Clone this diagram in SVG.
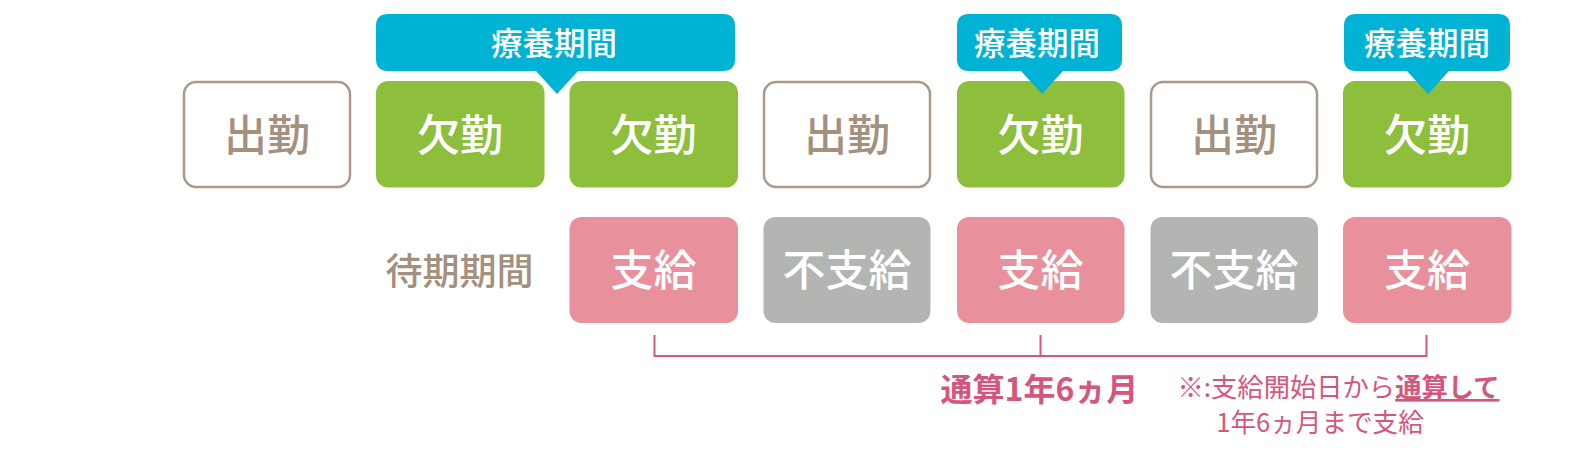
<svg xmlns="http://www.w3.org/2000/svg" width="1581" height="457" viewBox="0 0 1581 457">
<style>
text{font-family:"Noto Sans CJK JP","Noto Sans",sans-serif;text-anchor:middle}
.n{font-size:43px;font-weight:500}
.w{fill:#fff}
.wk rect{fill:#fff;stroke:#ab9a8c;stroke-width:2.5}
.wk text{fill:#a3907f}
.ab rect{fill:#8dbf3d}
.pay rect{fill:#e8909c}
.no rect{fill:#b3b5b3}
.tag path{fill:#00b2d4}
.tag text{fill:#fff;font-size:31.500px;font-weight:500}
.note{font-size:26.300px;fill:#d5567c}
</style>
<rect width="1581" height="457" fill="#fff"/>
<g id="conn" fill="none" stroke="#d5567c" stroke-width="2">
<path d="M654.500 335V356H1426.500V335M1040.500 335V356"/>
</g>
<g id="n1" class="wk"><rect x="184" y="82" width="166" height="105" rx="12"/><text class="n" x="267" y="151">出勤</text></g>
<g id="n2" class="ab"><rect x="376" y="81" width="168.500" height="106.500" rx="12"/><text class="n w" x="460" y="151">欠勤</text></g>
<g id="n3" class="ab"><rect x="569.500" y="81" width="168.500" height="106.500" rx="12"/><text class="n w" x="653.500" y="151">欠勤</text></g>
<g id="n4" class="wk"><rect x="764" y="82" width="166" height="105" rx="12"/><text class="n" x="847" y="151">出勤</text></g>
<g id="n5" class="ab"><rect x="957" y="81" width="167.500" height="106.500" rx="12"/><text class="n w" x="1040.500" y="151">欠勤</text></g>
<g id="n6" class="wk"><rect x="1151" y="82" width="166" height="105" rx="12"/><text class="n" x="1234" y="151">出勤</text></g>
<g id="n7" class="ab"><rect x="1343" y="81" width="168.500" height="106.500" rx="12"/><text class="n w" x="1427" y="151">欠勤</text></g>
<g id="t1" class="tag"><path d="M388 14H723Q735 14 735 26V59Q735 71 723 71H578L557 94L536 71H388Q376 71 376 59V26Q376 14 388 14Z"/><text x="554" y="55">療養期間</text></g>
<g id="t2" class="tag"><path d="M969 14H1110Q1122 14 1122 26V59Q1122 71 1110 71H1063L1042 94L1021 71H969Q957 71 957 59V26Q957 14 969 14Z"/><text x="1037" y="55">療養期間</text></g>
<g id="t3" class="tag"><path d="M1356 14H1498Q1510 14 1510 26V59Q1510 71 1498 71H1449L1428 94L1407 71H1356Q1344 71 1344 59V26Q1344 14 1356 14Z"/><text x="1427" y="55">療養期間</text></g>
<g id="l1"><text x="459.500" y="285" font-size="37" font-weight="500" fill="#a3907f">待期期間</text></g>
<g id="p1" class="pay"><rect x="569.500" y="217" width="168.500" height="106" rx="12"/><text class="n w" x="653.500" y="286">支給</text></g>
<g id="p2" class="no"><rect x="763.500" y="217" width="167" height="106" rx="12"/><text class="n w" x="847" y="286">不支給</text></g>
<g id="p3" class="pay"><rect x="957" y="217" width="167.500" height="106" rx="12"/><text class="n w" x="1040.500" y="286">支給</text></g>
<g id="p4" class="no"><rect x="1150.500" y="217" width="167.500" height="106" rx="12"/><text class="n w" x="1234" y="286">不支給</text></g>
<g id="p5" class="pay"><rect x="1343" y="217" width="168.500" height="106" rx="12"/><text class="n w" x="1427" y="286">支給</text></g>
<g id="l2"><text x="1039.500" y="401" font-size="32" font-weight="700" fill="#d5567c">通算1年6ヵ月</text></g>
<g id="l3"><text class="note" x="1338.500" y="397">※:支給開始日から<tspan font-weight="700" text-decoration="underline">通算して</tspan></text><text class="note" x="1320" y="432" style="font-size:25.600px">1年6ヵ月まで支給</text></g>
</svg>
